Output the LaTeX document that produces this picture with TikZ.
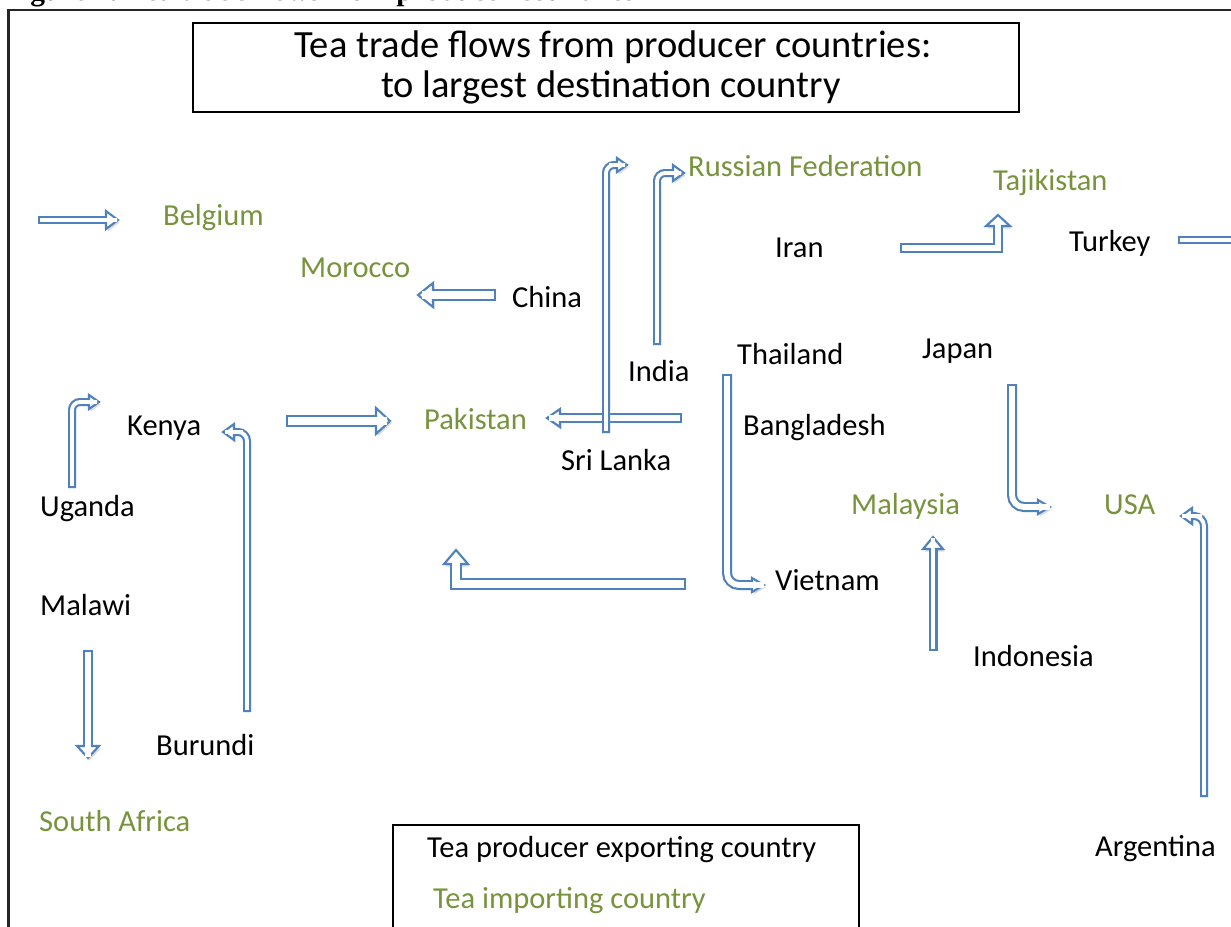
\documentclass[tikz,border=0pt]{standalone}
\usepackage{fontspec}
\setmainfont{Carlito}
\newfontfamily\headfont{Liberation Serif}
\usetikzlibrary{calc}

\definecolor{flowblue}{RGB}{79,129,189}
\definecolor{importgreen}{RGB}{119,147,60}

\tikzset{
  exporter/.style={anchor=base west, inner sep=0pt, font=\fontsize{30.5}{36}\selectfont},
  importer/.style={exporter, text=importgreen},
  flowedge/.style={draw=flowblue, line width=#1},
  flowfill/.style={draw=white, line width=#1, shorten <=2.1pt},
  flowhead/.style={fill=white, draw=flowblue, line width=2.1pt, line join=miter},
}

% block arrow: [corners] shaft width, tail, route, tip, direction, head length, head half width
\newcommand\teaflow[8][rounded corners=11pt]{%
  \pgfmathsetmacro\flowcore{#2-4.2}%
  \coordinate (flowbase) at ($(#5)+(#6+180:#7pt)$);
  \draw[#1, black!14, line width=#2pt, xshift=1.5pt, yshift=-2.5pt] (#3) #4 (flowbase);
  \fill[black!14, shift={(#5)}, xshift=1.5pt, yshift=-2.5pt, rotate=#6]
    (0,0) -- (-#7pt,#8pt) -- (-#7pt,-#8pt) -- cycle;
  \draw[#1, flowedge=#2pt] (#3) #4 (flowbase);
  \filldraw[flowhead, shift={(#5)}, rotate=#6]
    (0,0) -- (-#7pt,#8pt) -- (-#7pt,-#8pt) -- cycle;
  \draw[#1, flowfill=\flowcore pt] (#3) #4 (flowbase) -- ($(flowbase)+(#6:3pt)$);
}

\begin{document}
\begin{tikzpicture}[x=1pt, y=-1pt]
  \useasboundingbox (0,0) rectangle (1231,926);
  \clip (0,0) rectangle (1231,926);

  % frame, title and legend
  \node[anchor=base west, inner sep=0pt, font=\headfont\bfseries\fontsize{29.4}{30}\selectfont]
    (header) at (4,1) {Figure 1: Tea trade flows from producer countries};
  \draw[line width=2.2pt, black!85] (8.5,940) -- (8.5,10) -- (1240,10);
  \node[draw, line width=1.1pt, minimum width=826pt, minimum height=89pt, inner sep=0pt]
    (titlebox) at (606,67.5) {};
  \node[anchor=base, inner sep=0pt, font=\fontsize{38.5}{40}\selectfont]
    (title1) at (613,57) {Tea trade flows from producer countries:};
  \node[anchor=base, inner sep=0pt, font=\fontsize{38.5}{40}\selectfont]
    (title2) at (611,97) {to largest destination country};
  \draw[line width=1.1pt] (393,940) |- (859,825) -- (859,940);
  \node[exporter] (legend1) at (427,857) {Tea producer exporting country};
  \node[importer] (legend2) at (433,908) {Tea importing country};

  % countries
  \node[importer] (belgium) at (163,225) {Belgium};
  \node[importer] (morocco) at (300,277) {Morocco};
  \node[exporter] (china) at (512,307) {China};
  \node[importer] (russia) at (688,176) {Russian Federation};
  \node[importer] (tajikistan) at (993,190) {Tajikistan};
  \node[exporter] (iran) at (775,257) {Iran};
  \node[exporter] (turkey) at (1069,251) {Turkey};
  \node[exporter] (india) at (628,381) {India};
  \node[exporter] (thailand) at (737,364) {Thailand};
  \node[exporter] (japan) at (922,358) {Japan};
  \node[exporter] (kenya) at (127,435) {Kenya};
  \node[importer] (pakistan) at (424,429) {Pakistan};
  \node[exporter] (srilanka) at (561,470) {Sri Lanka};
  \node[exporter] (bangladesh) at (743,435) {Bangladesh};
  \node[exporter] (uganda) at (40,516) {Uganda};
  \node[importer] (malaysia) at (851,514) {Malaysia};
  \node[importer] (usa) at (1104,514) {USA};
  \node[exporter] (vietnam) at (775,590) {Vietnam};
  \node[exporter] (malawi) at (40,615) {Malawi};
  \node[exporter] (indonesia) at (973,666) {Indonesia};
  \node[exporter] (burundi) at (156,755) {Burundi};
  \node[importer] (southafrica) at (39,831) {South Africa};
  \node[exporter] (argentina) at (1095,856) {Argentina};

  % arrow ends
  \coordinate (west out) at (38,220);        \coordinate (belgium in) at (118,220);
  \coordinate (china out) at (496,295);      \coordinate (morocco in) at (418,295);
  \coordinate (srilanka out) at (606,433);   \coordinate (russia in1) at (627,165);
  \coordinate (india out) at (657,345);      \coordinate (russia in2) at (684,173);
  \coordinate (iran out) at (900,248);       \coordinate (tajikistan in) at (998,215);
  \coordinate (turkey out) at (1178,240);    \coordinate (turkey edge) at (1245,240);
  \coordinate (bangladesh out) at (682,418); \coordinate (pakistan in1) at (547,418);
  \coordinate (kenya out) at (286,421);      \coordinate (pakistan in2) at (390,421);
  \coordinate (vietnam out) at (686,584);    \coordinate (pakistan in3) at (456,550);
  \coordinate (uganda out) at (72,488);      \coordinate (kenya in1) at (99,402);
  \coordinate (burundi out) at (247,712);    \coordinate (kenya in2) at (223,432);
  \coordinate (malawi out) at (88,650);      \coordinate (southafrica in) at (88,758);
  \coordinate (thailand out) at (727,374);   \coordinate (vietnam in) at (764,585);
  \coordinate (japan out) at (1012,384);     \coordinate (usa in1) at (1050,507);
  \coordinate (argentina out) at (1204,797); \coordinate (usa in2) at (1181,516);
  \coordinate (indonesia out) at (933,651);  \coordinate (malaysia in) at (933,537);

  % flows
  \teaflow{8}{west out}{--}{belgium in}{0}{12}{9}
  \teaflow{12}{china out}{--}{morocco in}{180}{15}{12}
  \teaflow{10}{bangladesh out}{--}{pakistan in1}{180}{13}{9}
  \teaflow[rounded corners=8pt]{8}{srilanka out}{|-}{russia in1}{0}{10}{7}
  \teaflow[rounded corners=8pt]{8}{india out}{|-}{russia in2}{0}{11}{8}
  \teaflow[]{10}{iran out}{-|}{tajikistan in}{90}{11}{12}
  \draw[flowedge=8pt] (turkey out) -- (turkey edge);
  \draw[flowfill=3.8pt] (turkey out) -- (turkey edge);
  \teaflow{12}{kenya out}{--}{pakistan in2}{0}{14}{13}
  \teaflow[]{12}{vietnam out}{-|}{pakistan in3}{90}{14}{12}
  \teaflow[rounded corners=8pt]{8}{uganda out}{|-}{kenya in1}{0}{10}{7}
  \teaflow[rounded corners=9pt]{8}{burundi out}{|-}{kenya in2}{180}{11}{8}
  \teaflow{10}{malawi out}{--}{southafrica in}{270}{12}{11}
  \teaflow[rounded corners=12pt]{10}{thailand out}{|-}{vietnam in}{0}{12}{7}
  \teaflow[rounded corners=12pt]{10}{japan out}{|-}{usa in1}{0}{12}{7}
  \teaflow[rounded corners=10pt]{8}{argentina out}{|-}{usa in2}{180}{11}{8}
  \teaflow{9}{indonesia out}{--}{malaysia in}{90}{12}{10}
\end{tikzpicture}
\end{document}
